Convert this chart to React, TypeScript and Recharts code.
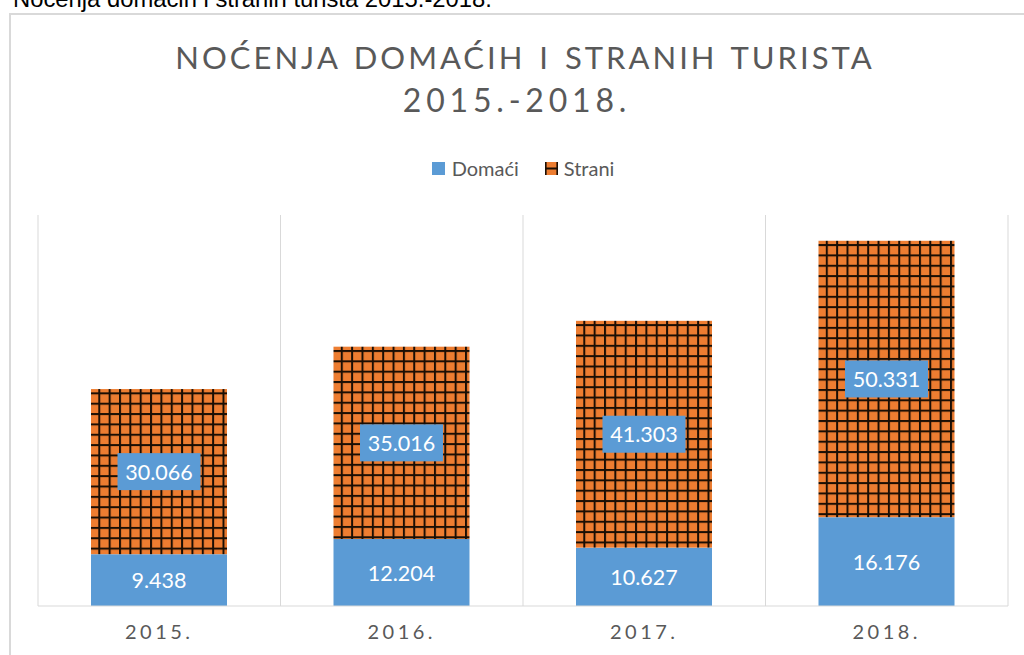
import React from 'react';
import { BarChart, Bar, XAxis, YAxis, CartesianGrid, LabelList, Legend } from 'recharts';

const years = ['2015.', '2016.', '2017.', '2018.'];
const domaci = [9438, 12204, 10627, 16176];
const strani = [30066, 35016, 41303, 50331];
const seriesNames = ['Domaći', 'Strani'];
const titleLines = ['NOĆENJA DOMAĆIH I STRANIH TURISTA', '2015.-2018.'];
const caption = 'Noćenja domaćih i stranih turista 2015.-2018.';

const data = years.map((y, i) => ({ year: y, domaci: domaci[i], strani: strani[i] }));

const BLUE = '#5B9BD5';
const ORANGE = '#ED7D31';
const GRAY = '#595959';
const GRID = '#D9D9D9';
const HATCH = '#1a0e04';
const FONT = 'Lato, "Open Sans", sans-serif';

const fmt = (v: number) => String(v).replace(/\B(?=(\d{3})+(?!\d))/g, '.');

const HatchBar = (props: any) => {
  const { x, y, width, height, index } = props;
  const id = `hatch-${index}`;
  const step = 10.35;
  return (
    <g>
      <defs>
        <pattern id={id} patternUnits="userSpaceOnUse" x={x + 7.3} y={y + 3.3} width={step} height={step}>
          <rect x={0} y={0} width={step} height={step} fill={ORANGE} />
          <rect x={0} y={0} width={2} height={step} fill={HATCH} />
          <rect x={0} y={0} width={step} height={2} fill={HATCH} />
        </pattern>
      </defs>
      <rect x={x} y={y} width={width} height={height} fill={`url(#${id})`} />
    </g>
  );
};

const makeLabel = (boxed: boolean) => (props: any) => {
  const { x, y, width, height, value } = props;
  const text = fmt(Number(value));
  const cx = Number(x) + Number(width) / 2;
  const cy = Number(y) + Number(height) / 2;
  const bw = text.length * 12 + 11;
  const bh = 37;
  return (
    <g>
      {boxed && <rect x={cx - bw / 2} y={cy - bh / 2} width={bw} height={bh} fill={BLUE} />}
      <text x={cx} y={cy} dy="0.38em" textAnchor="middle" fill="#FFFFFF" fontSize={21.5} fontFamily={FONT}>
        {text}
      </text>
    </g>
  );
};

const Tick = (props: any) => {
  const { x, y, payload } = props;
  return (
    <text x={x} y={y} dy={25} textAnchor="middle" fill={GRAY} fontSize={20} fontFamily={FONT} letterSpacing={3.5}>
      {payload.value}
    </text>
  );
};

const LegendContent = () => (
  <div style={{ display: 'flex', justifyContent: 'center', alignItems: 'center', fontFamily: FONT, fontSize: 20, color: GRAY, lineHeight: '24px' }}>
    <svg width={13} height={13} style={{ marginRight: 7 }}>
      <rect x={0} y={0} width={13} height={13} fill={BLUE} />
    </svg>
    <span style={{ marginRight: 26 }}>{seriesNames[0]}</span>
    <svg width={13} height={13} style={{ marginRight: 6 }}>
      <rect x={0} y={0} width={13} height={13} fill={ORANGE} />
      <rect x={0} y={0} width={1.6} height={13} fill={HATCH} />
      <rect x={11.4} y={0} width={1.6} height={13} fill={HATCH} />
      <rect x={0} y={5.5} width={13} height={2} fill={HATCH} />
    </svg>
    <span>{seriesNames[1]}</span>
  </div>
);

export default function App() {
  return (
    <div style={{ position: 'absolute', left: 0, top: 0, width: 1024, height: 655, overflow: 'hidden', background: '#fff' }}>
      <div style={{ position: 'absolute', left: 9, top: 13, width: 1100, height: 700, border: `2px solid ${GRID}`, boxSizing: 'border-box' }} />
      <div style={{ position: 'absolute', left: 0, top: 0 }}>
        <BarChart width={1024} height={655} data={data} margin={{ top: 215, right: 16, bottom: 19, left: 38 }} barSize={136}>
          <CartesianGrid
            horizontal={false}
            stroke={GRID}
            verticalCoordinatesGenerator={({ offset }: any) =>
              years.map((_, i) => offset.left + (i * offset.width) / years.length).concat([offset.left + offset.width])
            }
          />
          <XAxis dataKey="year" axisLine={{ stroke: GRID }} tickLine={false} tick={<Tick />} height={30} interval={0} />
          <YAxis hide domain={[0, 71200]} />
          <Legend verticalAlign="middle" content={<LegendContent />} wrapperStyle={{ top: 156, left: 0, width: 1046 }} />
          <Bar dataKey="domaci" name={seriesNames[0]} stackId="a" fill={BLUE} isAnimationActive={false}>
            <LabelList dataKey="domaci" content={makeLabel(false)} />
          </Bar>
          <Bar dataKey="strani" name={seriesNames[1]} stackId="a" fill={ORANGE} shape={<HatchBar />} isAnimationActive={false}>
            <LabelList dataKey="strani" content={makeLabel(true)} />
          </Bar>
        </BarChart>
      </div>
      <svg width={1024} height={655} style={{ position: 'absolute', left: 0, top: 0, pointerEvents: 'none' }}>
        <text x={13} y={7.3} fontFamily='"Liberation Sans", Arial, sans-serif' fontSize={23.8} fill="#000">
          {caption}
        </text>
        <text x={525} y={69.3} textAnchor="middle" fontFamily={FONT} fontSize={31} fill={GRAY} letterSpacing={3.0} wordSpacing={3}>
          {titleLines[0]}
        </text>
        <text x={517} y={111.7} textAnchor="middle" fontFamily={FONT} fontSize={32} fill={GRAY} letterSpacing={4.8}>
          {titleLines[1]}
        </text>
      </svg>
    </div>
  );
}
